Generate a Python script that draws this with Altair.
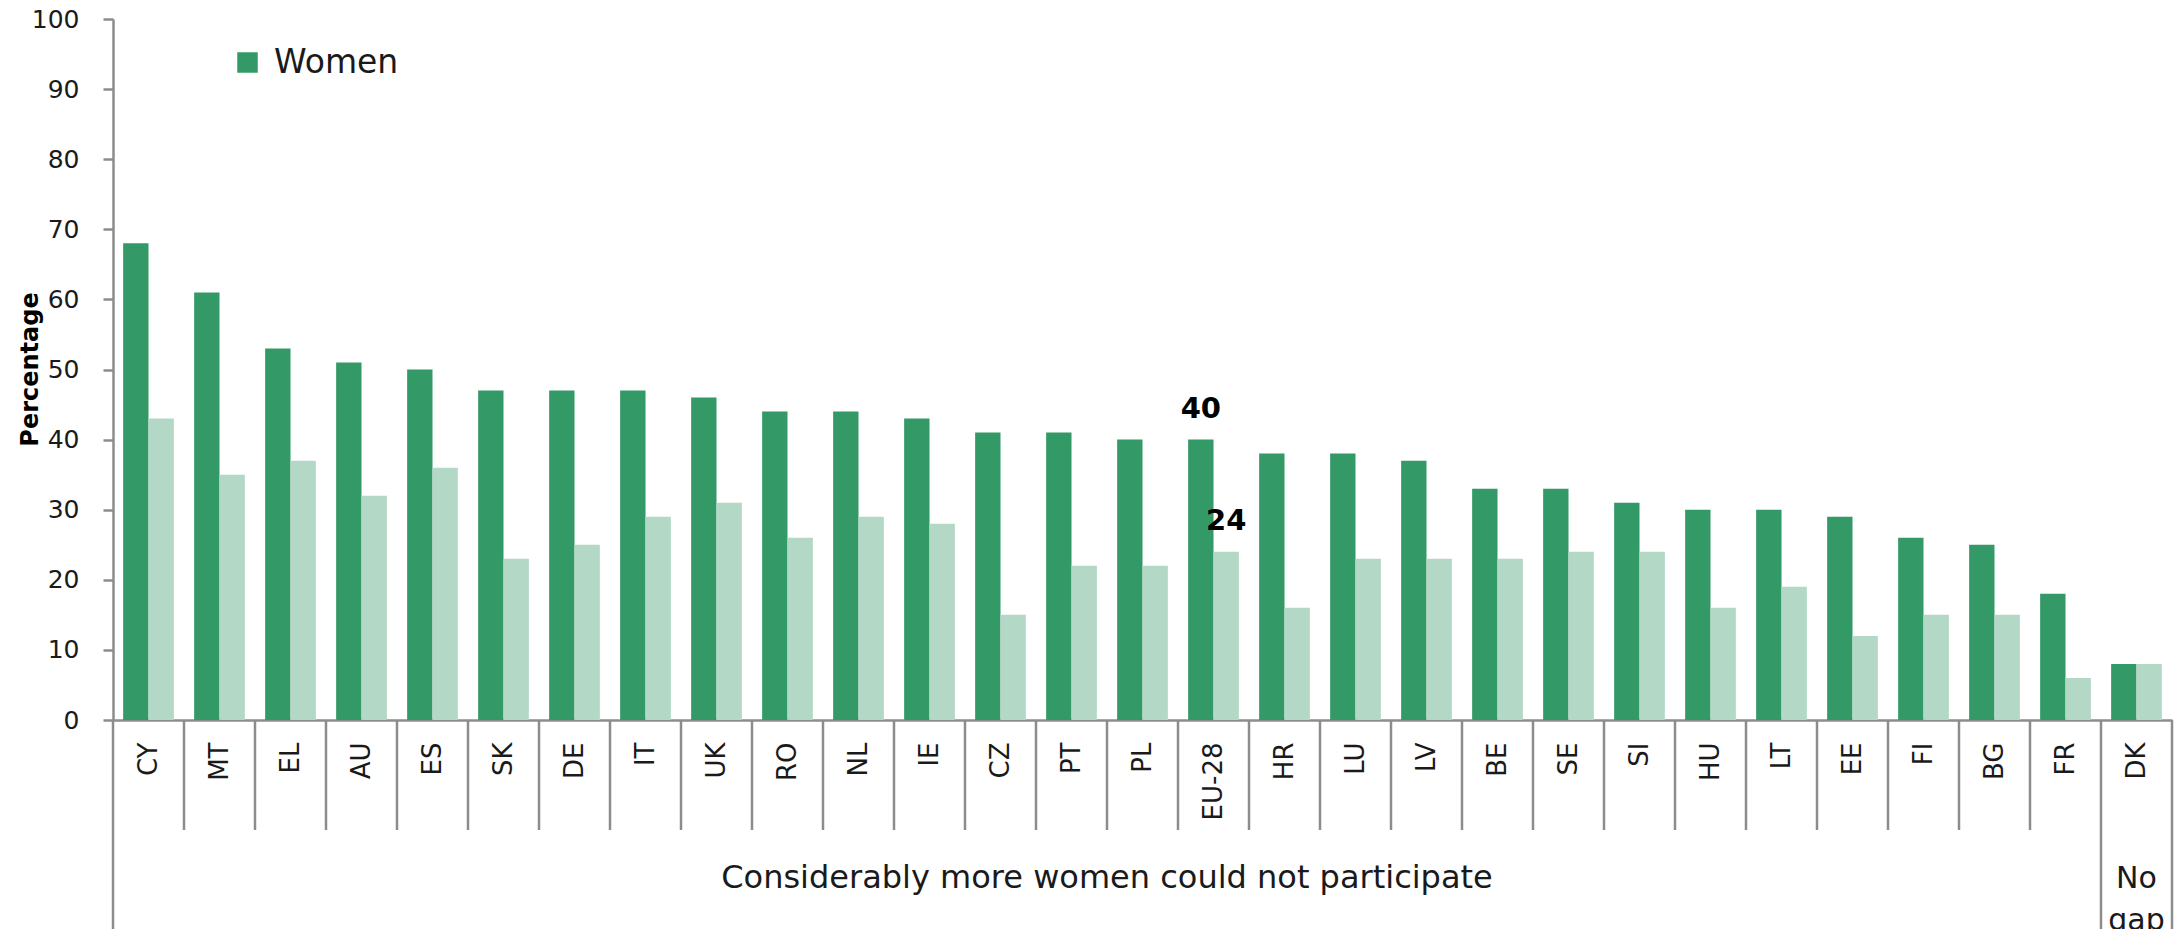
import altair as alt
import pandas as pd

countries = ["CY", "MT", "EL", "AU", "ES", "SK", "DE", "IT", "UK", "RO", "NL", "IE",
             "CZ", "PT", "PL", "EU-28", "HR", "LU", "LV", "BE", "SE", "SI", "HU",
             "LT", "EE", "FI", "BG", "FR", "DK"]
women = [68, 61, 53, 51, 50, 47, 47, 47, 46, 44, 44, 43, 41, 41, 40, 40, 38, 38, 37,
         33, 33, 31, 30, 30, 29, 26, 25, 18, 8]
men = [43, 35, 37, 32, 36, 23, 25, 29, 31, 26, 29, 28, 15, 22, 22, 24, 16, 23, 23,
       23, 24, 24, 16, 19, 12, 15, 15, 6, 8]
series = ["Women", "Men"]
colors = ["#339966", "#b3d8c5"]
highlight = ["EU-28"]
group_labels = ["Considerably more women could not participate", "No\ngap"]
group_anchor = ["PL", "DK"]          # main group centred at start of PL band; No gap centred on DK
short_seps = countries[1:-1]         # separators at band start of these
long_seps_start = ["CY", "DK"]
long_seps_end = ["DK"]

FONT = "DejaVu Sans"
GRAY = "#8c8c8c"
TXT = "#1a1a1a"

rows = []
for c, w, m in zip(countries, women, men):
    rows.append({"country": c, "series": "Women", "value": w})
    rows.append({"country": c, "series": "Men", "value": m})
df = pd.DataFrame(rows)

x_axis = alt.Axis(
    title=None, labelAngle=270, labelAlign="right", labelBaseline="middle",
    labelPadding=22, ticks=False, tickSize=0, domain=True, domainColor=GRAY,
    domainWidth=2.5, labelFont=FONT, labelFontSize=26, labelColor=TXT,
)
x_scale = alt.Scale(domain=countries, paddingInner=0, paddingOuter=0)

bars = alt.Chart(df).mark_bar().encode(
    x=alt.X("country:N", scale=x_scale, axis=x_axis, sort=countries),
    xOffset=alt.XOffset("series:N", sort=series,
                        scale=alt.Scale(domain=series, paddingInner=0, paddingOuter=0.4)),
    y=alt.Y("value:Q", scale=alt.Scale(domain=[0, 100], nice=False, zero=True),
            axis=alt.Axis(
                title="Percentage", titleFont=FONT, titleFontSize=24, titleFontWeight="bold",
                titleColor="#000000", titleAngle=270, titleAlign="center",
                titleBaseline="middle", titleX=-83, titleY=350,
                values=list(range(0, 101, 10)), grid=False, domainColor=GRAY,
                domainWidth=2.5, tickColor=GRAY, tickWidth=2.5, tickSize=10,
                labelPadding=24, labelFont=FONT, labelFontSize=25, labelColor=TXT)),
    color=alt.Color("series:N", scale=alt.Scale(domain=series, range=colors),
                    legend=alt.Legend(values=["Women"], title=None, orient="none",
                                      legendX=118, legendY=27, symbolType="square",
                                      symbolSize=420, symbolStrokeWidth=0,
                                      labelFont=FONT, labelFontSize=33,
                                      labelColor=TXT, labelOffset=10, padding=0)),
)

ann = alt.Chart(df[df["country"].isin(highlight)]).mark_text(
    dy=-31, font=FONT, fontSize=29, fontWeight="bold", color="#000000", baseline="middle"
).encode(
    x=alt.X("country:N", scale=x_scale, axis=x_axis, sort=countries),
    xOffset=alt.XOffset("series:N", sort=series),
    y=alt.Y("value:Q"),
    text=alt.Text("value:Q"),
)

sep_short = alt.Chart(pd.DataFrame({"country": short_seps})).mark_rule(
    color=GRAY, strokeWidth=2.5
).encode(
    x=alt.X("country:N", scale=x_scale, axis=x_axis, sort=countries, bandPosition=0),
    y=alt.value(701), y2=alt.value(811),
)
sep_long_a = alt.Chart(pd.DataFrame({"country": long_seps_start})).mark_rule(
    color=GRAY, strokeWidth=2.5
).encode(
    x=alt.X("country:N", scale=x_scale, axis=x_axis, sort=countries, bandPosition=0),
    y=alt.value(701), y2=alt.value(912),
)
sep_long_b = alt.Chart(pd.DataFrame({"country": long_seps_end})).mark_rule(
    color=GRAY, strokeWidth=2.5
).encode(
    x=alt.X("country:N", scale=x_scale, axis=x_axis, sort=countries, bandPosition=1),
    y=alt.value(701), y2=alt.value(912),
)

grp_main = alt.Chart(pd.DataFrame({"country": [group_anchor[0]], "label": [group_labels[0]]})).mark_text(
    font=FONT, fontSize=32, color=TXT, baseline="alphabetic", align="center"
).encode(
    x=alt.X("country:N", scale=x_scale, axis=x_axis, sort=countries, bandPosition=0),
    y=alt.value(869),
    text="label:N",
)
grp_nogap = alt.Chart(pd.DataFrame({"country": [group_anchor[1]], "label": [group_labels[1]]})).mark_text(
    font=FONT, fontSize=30, color=TXT, baseline="alphabetic", align="center",
    lineBreak="\n", lineHeight=42
).encode(
    x=alt.X("country:N", scale=x_scale, axis=x_axis, sort=countries, bandPosition=0.5),
    y=alt.value(869),
    text="label:N",
)

chart = alt.layer(bars, ann, sep_short, sep_long_a, sep_long_b, grp_main, grp_nogap).properties(
    width=2059, height=701,
    autosize=alt.AutoSizeParams(type="none"),
    padding={"left": 113, "top": 19, "right": 5, "bottom": 209},
    background="#ffffff",
).configure_view(stroke=None)

chart.save("out.html", embed_options={"renderer": "svg", "actions": False})
